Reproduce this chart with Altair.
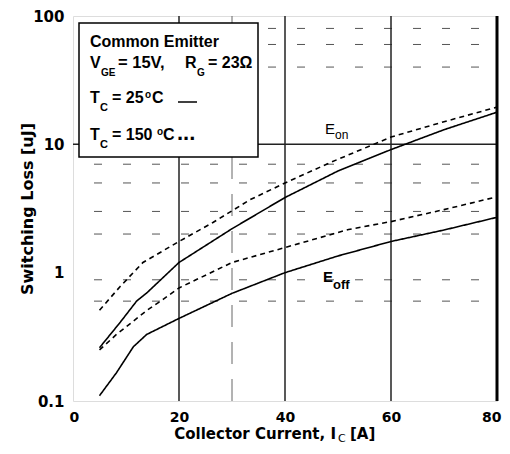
import altair as alt
import pandas as pd

# ---- curve data ----
eon25_x = [5, 8.9, 12, 14, 20, 30, 40, 50, 60, 70, 80]
eon25_y = [0.26, 0.41, 0.6, 0.7, 1.2, 2.2, 3.85, 6.2, 9.1, 13.0, 17.8]
eon150_x = [5, 8.9, 13.2, 20, 26.4, 33.4, 40, 48.5, 60, 70, 80]
eon150_y = [0.51, 0.78, 1.2, 1.75, 2.46, 3.7, 5.0, 7.2, 11.4, 15.0, 19.5]
eoff25_x = [5, 8.2, 11.4, 13.9, 20, 30, 40, 50, 60, 70, 80]
eoff25_y = [0.11, 0.166, 0.265, 0.33, 0.44, 0.69, 1.0, 1.35, 1.75, 2.15, 2.7]
eoff150_x = [5, 8.2, 14, 17, 20, 30, 40, 52, 60, 70, 80]
eoff150_y = [0.25, 0.33, 0.51, 0.62, 0.76, 1.2, 1.57, 2.17, 2.5, 3.1, 3.9]

# ---- grid values ----
solid_v = [20, 40, 60]
solid_h = [10]
dotted_h = [80, 60, 40, 7, 5, 3, 2, 0.88, 0.6]
dotted_v = [30]

x_ticks = [0, 20, 40, 60, 80]
y_ticks = [0.1, 1, 10, 100]

# ---- texts ----
y_title = "Switching Loss [uJ]"
x_title_parts = ["Collector Current, I", "C", "[A]"]
legend_line1 = "Common Emitter"
legend_line2 = ["V", "GE", "= 15V,", "R", "G", "= 23\u03a9"]
legend_line3 = ["T", "C", "= 25", "o", "C"]
legend_line4 = ["T", "C", "= 150", "o", "C", "..."]
eon_label = ["E", "on"]
eoff_label = ["E", "off"]

W, H = 424, 385
LEG = "Liberation Sans"
AX = "DejaVu Sans"

rows = []
for xs, ys, name, temp in [
    (eon25_x, eon25_y, "Eon", "25"),
    (eon150_x, eon150_y, "Eon", "150"),
    (eoff25_x, eoff25_y, "Eoff", "25"),
    (eoff150_x, eoff150_y, "Eoff", "150"),
]:
    for a, b in zip(xs, ys):
        rows.append({"current": a, "loss": b, "curve": name + temp, "temp": temp})
curves_df = pd.DataFrame(rows)

xscale = alt.Scale(domain=[0, 80], nice=False)
yscale = alt.Scale(type="log", domain=[0.1, 100], nice=False)

xaxis = alt.Axis(
    values=x_ticks, title=None, grid=False, ticks=False, domain=False,
    labelFont=AX, labelFontWeight="bold", labelFontSize=14,
    labelPadding=9, labelFlush=True, labelFlushOffset=4,
    labelColor="black", labelOverlap=False)
yaxis = alt.Axis(
    values=y_ticks, format="~g", grid=False, ticks=False, domain=False,
    labelFont=AX, labelFontWeight="bold", labelFontSize=15,
    labelPadding=9, labelColor="black", labelOverlap=False,
    title=y_title, titleFont=AX, titleFontWeight="bold", titleFontSize=16,
    titleColor="black", titleX=-38, titleY=H / 2, titleAngle=270,
    titleAlign="center", titleBaseline="bottom")

X = alt.X("current:Q", scale=xscale, axis=xaxis)
Y = alt.Y("loss:Q", scale=yscale, axis=yaxis)

curves = alt.Chart(curves_df).mark_line(color="black", strokeWidth=1.6).encode(
    x=X, y=Y,
    detail="curve:N",
    strokeDash=alt.StrokeDash("temp:N", scale=alt.Scale(domain=["25", "150"], range=[[1, 0], [5, 4]]), legend=None),
)

vgrid = alt.Chart(pd.DataFrame({"current": solid_v})).mark_rule(color="#222", strokeWidth=1.5).encode(x=X)
hgrid = alt.Chart(pd.DataFrame({"loss": solid_h})).mark_rule(color="#222", strokeWidth=1.5).encode(y=Y)
hdots = alt.Chart(pd.DataFrame({"loss": dotted_h})).mark_rule(
    color="#555", strokeWidth=1, strokeDash=[8, 21], strokeDashOffset=8).encode(
    y=Y, x=alt.value(0), x2=alt.value(W))
vdots = alt.Chart(pd.DataFrame({"current": dotted_v})).mark_rule(
    color="#666", strokeWidth=1, strokeDash=[22, 15], strokeDashOffset=7).encode(
    x=X, y=alt.value(0), y2=alt.value(H))

one = alt.InlineData(values=[{"k": 1}])


def txt(s, x, y, size, weight="bold", font=LEG, align="left"):
    return alt.Chart(one).mark_text(
        text=s, font=font, fontSize=size, fontWeight=weight, align=align,
        baseline="alphabetic", color="black").encode(x=alt.value(x), y=alt.value(y))


box = alt.Chart(one).mark_rect(fill="white", stroke="black", strokeWidth=1.5).encode(
    x=alt.value(6), x2=alt.value(185), y=alt.value(7), y2=alt.value(141))
dash25 = alt.Chart(one).mark_rule(color="black", strokeWidth=1.5).encode(
    x=alt.value(105), x2=alt.value(124), y=alt.value(86))
right_edge = alt.Chart(one).mark_rule(color="black", strokeWidth=3).encode(
    x=alt.value(W), y=alt.value(0), y2=alt.value(H))

texts = [
    txt(legend_line1, 17, 31, 16),
    txt(legend_line2[0], 17, 52, 16),
    txt(legend_line2[1], 28, 60, 10),
    txt(legend_line2[2], 45, 52, 16.5),
    txt(legend_line2[3], 112, 52, 16),
    txt(legend_line2[4], 124, 60, 10),
    txt(legend_line2[5], 135, 52, 16),
    txt(legend_line3[0], 17, 87, 16),
    txt(legend_line3[1], 27, 95, 11),
    txt(legend_line3[2], 39, 87, 16),
    txt(legend_line3[3], 72, 82, 10),
    txt(legend_line3[4], 79, 87, 16),
    txt(legend_line4[0], 17, 124, 16),
    txt(legend_line4[1], 27, 132, 11),
    txt(legend_line4[2], 39, 124, 16),
    txt(legend_line4[3], 84, 119, 10),
    txt(legend_line4[4], 90, 124, 16),
    txt(legend_line4[5], 104, 124, 22),
    txt(eon_label[0], 252, 118, 15, weight="normal"),
    txt(eon_label[1], 262, 123, 12, weight="normal"),
    txt(eoff_label[0], 250, 266, 15),
    txt(eoff_label[1], 260, 273, 13),
    txt(x_title_parts[0], 263, 423, 15, font=AX, align="right"),
    txt(x_title_parts[1], 265, 426, 11, font=AX, weight="normal"),
    txt(x_title_parts[2], 277, 423, 15, font=AX),
]

chart = alt.layer(
    hdots, vdots, vgrid, hgrid, curves, box, dash25, right_edge, *texts
).properties(
    width=W, height=H,
    autosize=alt.AutoSizeParams(type="none"),
    padding={"left": 65, "top": 8, "right": 5, "bottom": 45},
).configure_view(stroke="black", strokeWidth=2).configure(background="white")

chart.save("out.html", embed_options={"renderer": "svg", "actions": False})
